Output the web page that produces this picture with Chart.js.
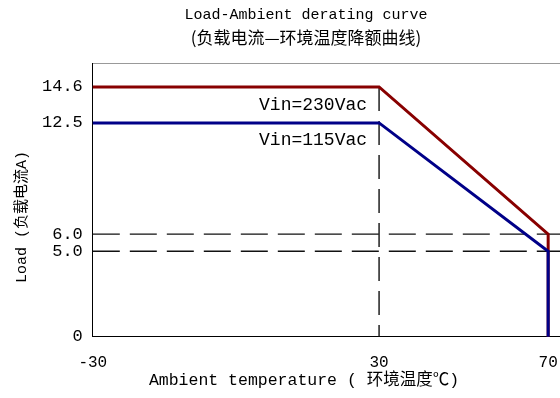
<!DOCTYPE html>
<html>
<head>
<meta charset="utf-8">
<script src="https://cdn.jsdelivr.net/npm/chart.js@4/dist/chart.umd.min.js"></script>
<style>
  html, body { margin: 0; padding: 0; background: #fff; }
</style>
</head>
<body>
<canvas id="derating" width="560" height="398"></canvas>
<script>
// ambient temperature (°C) and output load (A) for each input voltage
var temps230 = [-30, 30, 70, 70];
var load230 = [14.6, 14.6, 6.0, 0];
var temps115 = [-30, 30, 70, 70];
var load115 = [12.5, 12.5, 5.0, 0];
var seriesNames = ["Vin=230Vac", "Vin=115Vac"];

// dashed guide lines
var refLoads = [6.0, 5.0];
var refTemp = 30;

var xTicks = [-30, 30, 70];
var yTicks = [0, 5.0, 6.0, 12.5, 14.6];
var yTickLabels = ["0", "5.0", "6.0", "12.5", "14.6"];

var titleLines = ["Load-Ambient derating curve", "(负载电流—环境温度降额曲线)"];
var xTitle = "Ambient temperature ( 环境温度℃)";
var yTitle = "Load (负载电流A)";

var xMin = -30, xMax = 72.8, yMin = 0, yMax = 16;

var monoFont = '"Liberation Mono", "Noto Sans CJK SC", monospace';
var cjkFont = '"Noto Sans CJK SC", "Liberation Mono", sans-serif';

// the x axis of the original is not linear: the part above 30°C is squeezed
class WarpScale extends Chart.LinearScale {
    warp(v) {
        var w = this.options.warp;
        return v <= w.at ? v : w.at + (v - w.at) * w.factor;
    }
    unwarp(v) {
        var w = this.options.warp;
        return v <= w.at ? v : w.at + (v - w.at) / w.factor;
    }
    getPixelForValue(value) {
        if (value === null || value === undefined) return NaN;
        var a = this.warp(this.min), b = this.warp(this.max);
        return this.getPixelForDecimal((this.warp(value) - a) / (b - a));
    }
    getValueForPixel(pixel) {
        var a = this.warp(this.min), b = this.warp(this.max);
        return this.unwarp(a + this.getDecimalForPixel(pixel) * (b - a));
    }
}
WarpScale.id = "warp";
WarpScale.defaults = Chart.LinearScale.defaults;
Chart.register(WarpScale);

function points(xs, ys) {
    return xs.map(function (x, i) { return { x: x, y: ys[i] }; });
}

var datasets = [
    {
        label: seriesNames[1],
        data: points(temps115, load115),
        borderColor: "#000088",
        borderWidth: 3
    },
    {
        label: seriesNames[0],
        data: points(temps230, load230),
        borderColor: "#880000",
        borderWidth: 3
    }
];
refLoads.forEach(function (v) {
    datasets.push({
        label: "ref " + v,
        data: [{ x: xMin, y: v }, { x: xMax, y: v }],
        borderColor: "#111",
        borderWidth: 1.4,
        borderDash: [27, 10]
    });
});
datasets.push({
    label: "ref " + refTemp,
    data: [{ x: refTemp, y: load230[1] }, { x: refTemp, y: yMin }],
    borderColor: "#111",
    borderWidth: 1.4,
    borderDash: [24, 10]
});
datasets.forEach(function (d) {
    d.pointRadius = 0;
    d.fill = false;
    d.tension = 0;
    d.clip = false;
    d.borderJoinStyle = "miter";
});

// titles and the two series labels
var textLayer = {
    id: "textLayer",
    afterDraw: function (chart) {
        var ctx = chart.ctx;
        var xs = chart.scales.x, ys = chart.scales.y;
        ctx.save();
        ctx.fillStyle = "#000";
        ctx.textBaseline = "middle";

        ctx.textAlign = "center";
        ctx.font = "15px " + monoFont;
        ctx.fillText(titleLines[0], 306, 15);
        ctx.font = "17px " + cjkFont;
        ctx.fillText(titleLines[1], 306, 38);

        ctx.font = "16.5px " + monoFont;
        ctx.fillText(xTitle, 304, 381);

        ctx.font = "15px " + monoFont;
        ctx.save();
        ctx.translate(22, 217);
        ctx.rotate(-Math.PI / 2);
        ctx.fillText(yTitle, 0, 0);
        ctx.restore();

        ctx.textAlign = "right";
        ctx.font = "18px " + monoFont;
        var lx = xs.getPixelForValue(refTemp) - 12;
        ctx.fillText(seriesNames[0], lx, ys.getPixelForValue(load230[1]) + 18);
        ctx.fillText(seriesNames[1], lx, ys.getPixelForValue(load115[1]) + 17);
        ctx.restore();
    }
};

var chart = new Chart(document.getElementById("derating"), {
    type: "line",
    data: { datasets: datasets },
    options: {
        responsive: false,
        animation: false,
        layout: { padding: { left: 32, right: 0, top: 63, bottom: 24 } },
        plugins: {
            legend: { display: false },
            tooltip: { enabled: false },
            title: { display: false }
        },
        scales: {
            x: {
                type: "warp",
                warp: { at: 30, factor: 0.886 },
                min: xMin,
                max: xMax,
                grid: { display: false, drawTicks: true, tickLength: 14 },
                border: { display: true, color: "#000", width: 1 },
                afterBuildTicks: function (s) {
                    s.ticks = xTicks.map(function (v) { return { value: v }; });
                },
                ticks: {
                    padding: 2,
                    color: "#000",
                    maxRotation: 0,
                    font: { family: monoFont, size: 16 },
                    callback: function (v) { return String(v); }
                }
            },
            xTop: {
                type: "linear",
                position: "top",
                min: xMin,
                max: xMax,
                grid: { display: false, drawTicks: false },
                border: { display: true, color: "#999", width: 1 },
                ticks: { display: false }
            },
            y: {
                type: "linear",
                min: yMin,
                max: yMax,
                grid: { display: false, drawTicks: false },
                border: { display: true, color: "#000", width: 1 },
                afterBuildTicks: function (s) {
                    s.ticks = yTicks.map(function (v) { return { value: v }; });
                },
                ticks: {
                    padding: 10,
                    color: "#000",
                    font: { family: monoFont, size: 17 },
                    callback: function (v, i) { return yTickLabels[i]; }
                }
            }
        }
    },
    plugins: [textLayer]
});
</script>
</body>
</html>
